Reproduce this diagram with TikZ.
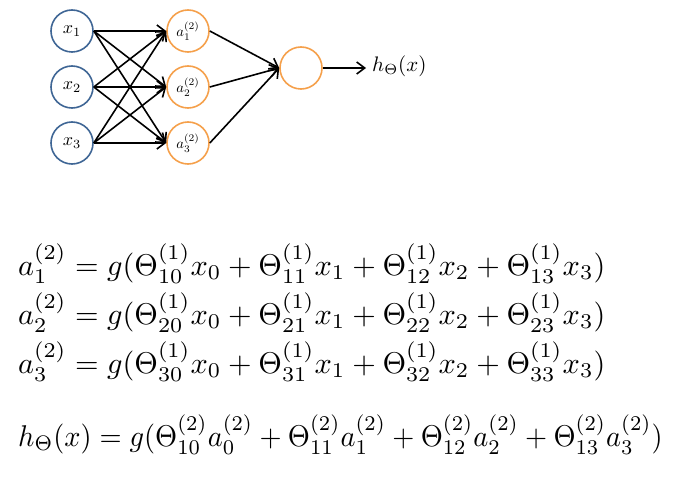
\documentclass[tikz,border=0pt]{standalone}
\usepackage{amsmath}
\usetikzlibrary{arrows.meta}
\definecolor{inblue}{HTML}{3F6695}
\definecolor{hidorange}{HTML}{F5A04B}
\begin{document}
\begin{tikzpicture}[x=1pt,y=-1pt,
  neuron/.style={circle,line width=1.6pt,minimum size=42pt,inner sep=0pt},
  inneuron/.style={neuron,draw=inblue},
  hidneuron/.style={neuron,draw=hidorange},
  conn/.style={line width=1.6pt,-{Straight Barb[length=8pt,width=12pt]}},
  eq/.style={anchor=base west,inner sep=0pt}]
\useasboundingbox (0,0) rectangle (685,489);
\node[inneuron] (x1) at (72,31) {\scalebox{1.8}{$x_1$}};
\node[inneuron] (x2) at (72,87) {\scalebox{1.8}{$x_2$}};
\node[inneuron] (x3) at (72,143) {\scalebox{1.8}{$x_3$}};
\node[hidneuron] (a1) at (188,31) {\scalebox{1.45}{$a_1^{(2)}$}};
\node[hidneuron] (a2) at (188,87) {\scalebox{1.45}{$a_2^{(2)}$}};
\node[hidneuron] (a3) at (188,143) {\scalebox{1.45}{$a_3^{(2)}$}};
\node[hidneuron] (o) at (301,68) {};
\coordinate (oe) at (366,68);
\node[anchor=west,inner sep=0pt] (h) at (372,66) {\scalebox{2.1}{$h_\Theta(x)$}};
\foreach \i in {1,2,3}{
  \foreach \j in {1,2,3}{
    \draw[conn] (x\i.east) -- (a\j.west);
  }
  \draw[conn] (a\i.east) -- (o.west);
}
\draw[conn] (o.east) -- (oe);
\node[eq] (e1) at (18,275) {\scalebox{3.03}[3]{$a_1^{(2)}=g(\Theta_{10}^{(1)}x_0+\Theta_{11}^{(1)}x_1+\Theta_{12}^{(1)}x_2+\Theta_{13}^{(1)}x_3)$}};
\node[eq] (e2) at (18,324) {\scalebox{3.03}[3]{$a_2^{(2)}=g(\Theta_{20}^{(1)}x_0+\Theta_{21}^{(1)}x_1+\Theta_{22}^{(1)}x_2+\Theta_{23}^{(1)}x_3)$}};
\node[eq] (e3) at (18,373) {\scalebox{3.03}[3]{$a_3^{(2)}=g(\Theta_{30}^{(1)}x_0+\Theta_{31}^{(1)}x_1+\Theta_{32}^{(1)}x_2+\Theta_{33}^{(1)}x_3)$}};
\node[eq] (e4) at (18,446) {\scalebox{2.84}[3]{$h_\Theta(x)=g(\Theta_{10}^{(2)}a_0^{(2)}+\Theta_{11}^{(2)}a_1^{(2)}+\Theta_{12}^{(2)}a_2^{(2)}+\Theta_{13}^{(2)}a_3^{(2)})$}};
\end{tikzpicture}
\end{document}
